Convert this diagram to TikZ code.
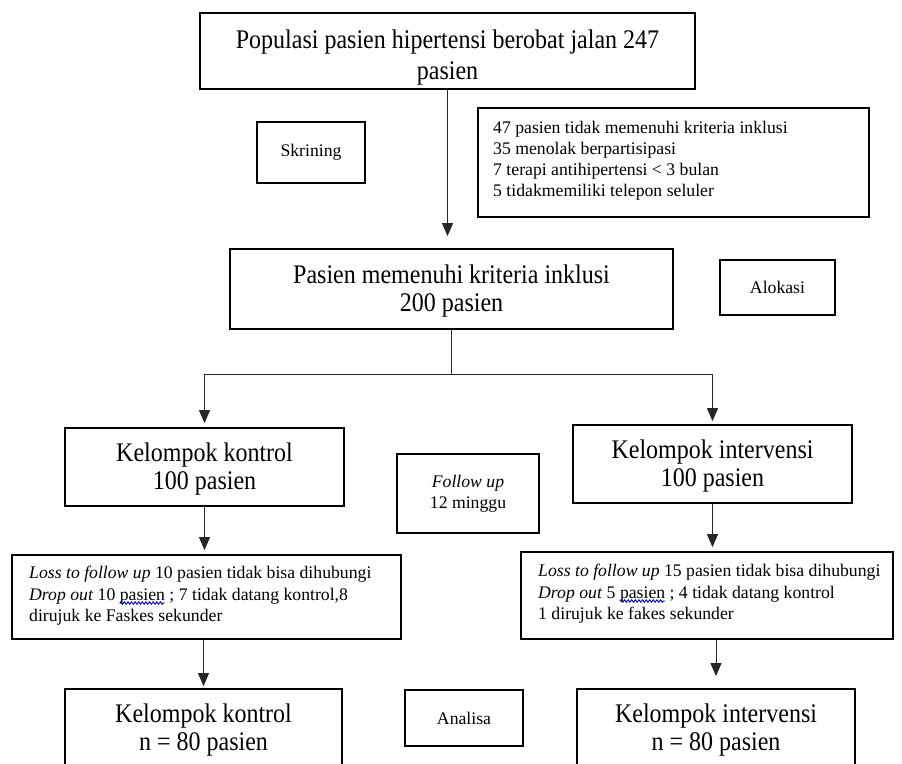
\documentclass[tikz,border=0pt]{standalone}
\usepackage{fontspec}
\setmainfont{Liberation Serif}
\usetikzlibrary{arrows.meta,decorations.pathmorphing}
\newlength\waveoffL
\newlength\waveoffR
\newlength\wavelen
\newcommand\bigtwo[3][25]{\raisebox{0pt}[\dimexpr\height+6pt\relax]{\scalebox{1}[1.12]{\fontsize{24}{#1}\selectfont\begin{tabular}{@{}c@{}}#2\\#3\end{tabular}}}}
\newcommand\bigtop[2]{\raisebox{0pt}[\dimexpr\height+14pt\relax]{\scalebox{1}[1.12]{\fontsize{24}{27.7}\selectfont\begin{tabular}{@{}c@{}}#1\\#2\end{tabular}}}}
\begin{document}
\settowidth\waveoffL{\fontsize{17.7}{21}\selectfont\textit{Drop out} 10 }%
\settowidth\waveoffR{\fontsize{17.7}{21}\selectfont\textit{Drop out} 5 }%
\settowidth\wavelen{\fontsize{17.7}{21}\selectfont pasien}%
\begin{tikzpicture}[x=1pt,y=-1pt,
  box/.style={draw=black,line width=1.8pt,rectangle,inner sep=0pt},
  small/.style={font=\fontsize{17.7}{21}\selectfont},
  txt/.style={small,align=left,anchor=north west,inner sep=0pt},
  conn/.style={draw=black!85,line width=1pt},
  arr/.style={conn,-{Triangle[length=13pt,width=11pt]}},
  wave/.style={draw=blue!75!black,line width=0.9pt,decorate,decoration={snake,amplitude=1.2pt,segment length=3.6pt}}]
\useasboundingbox (0,0) rectangle (902,763);
\clip (0,0) rectangle (902,763);

% top
\node[box,minimum width=495pt,minimum height=76pt] (pop) at (447.5,51) {\bigtop{Populasi pasien hipertensi berobat jalan 247}{pasien}};
\node[box,small,minimum width=108pt,minimum height=61pt] (skr) at (311,152.5) {Skrining};
\node[box,minimum width=391pt,minimum height=109pt] (excl) at (673.5,162.5) {};
\node[txt,font=\fontsize{17.7}{21}\selectfont] (excltxt) at (493,121) {47 pasien tidak memenuhi kriteria inklusi\\35 menolak berpartisipasi\\7 terapi antihipertensi < 3 bulan\\5 tidakmemiliki telepon seluler};

% inclusion
\node[box,minimum width=443pt,minimum height=80pt] (pas) at (451.5,289) {\bigtwo{Pasien memenuhi kriteria inklusi}{200 pasien}};
\node[box,small,minimum width=115pt,minimum height=55pt] (alo) at (777.5,287.5) {Alokasi};
\draw[arr,shorten >=12pt] (pop.south) -- (pop.south |- pas.north);

% branch
\coordinate (br) at (451.5,374);
\coordinate (brL) at (204.5,374);
\coordinate (brR) at (712.5,374);
\draw[conn] (pas.south) -- (br);
\draw[conn] (brL) -- (brR);

% groups
\node[box,minimum width=279pt,minimum height=78pt] (kon) at (204.5,467) {\bigtwo{Kelompok kontrol}{100 pasien}};
\node[box,minimum width=279pt,minimum height=78pt] (int) at (712.5,464) {\bigtwo{Kelompok intervensi}{100 pasien}};
\node[box,small,align=center,minimum width=142pt,minimum height=79pt] (fol) at (468,493.5) {\textit{Follow up}\\12 minggu};
\draw[arr,shorten >=4pt] (brL) -- (kon.north);
\draw[arr,shorten >=3pt] (brR) -- (int.north);

% loss boxes
\node[box,minimum width=389pt,minimum height=84pt] (lossL) at (206.5,597) {};
\node[txt,font=\fontsize{17.7}{21.5}\selectfont] (lossLtxt) at (29,566) {\textit{Loss to follow up} 10 pasien tidak bisa dihubungi\\\textit{Drop out} 10 pasien ; 7 tidak datang kontrol,8\\dirujuk ke Faskes sekunder};
\node[box,minimum width=372pt,minimum height=87pt] (lossR) at (707,595.5) {};
\node[txt,font=\fontsize{17.7}{21.5}\selectfont] (lossRtxt) at (538,564) {\textit{Loss to follow up} 15 pasien tidak bisa dihubungi\\\textit{Drop out} 5 pasien ; 4 tidak datang kontrol\\1 dirujuk ke fakes sekunder};
\draw[wave] ([xshift=\waveoffL,yshift=-37pt]lossLtxt.north west) -- ++(\wavelen,0);
\draw[wave] ([xshift=\waveoffR,yshift=-37pt]lossRtxt.north west) -- ++(\wavelen,0);
\draw[arr,shorten >=4pt] (kon.south) -- (kon.south |- lossL.north);
\draw[arr,shorten >=4pt] (int.south) -- (int.south |- lossR.north);

% final
\node[box,minimum width=277pt,minimum height=78pt] (finL) at (203.5,728) {\bigtwo{Kelompok kontrol}{n = 80 pasien}};
\node[box,small,minimum width=118pt,minimum height=56pt] (ana) at (464,718) {Analisa};
\node[box,minimum width=278pt,minimum height=78pt] (finR) at (716,728) {\bigtwo{Kelompok intervensi}{n = 80 pasien}};
\draw[arr,shorten >=2pt] (finL.north |- lossL.south) -- (finL.north);
\draw[arr,shorten >=12pt] (finR.north |- lossR.south) -- (finR.north);
\end{tikzpicture}
\end{document}
